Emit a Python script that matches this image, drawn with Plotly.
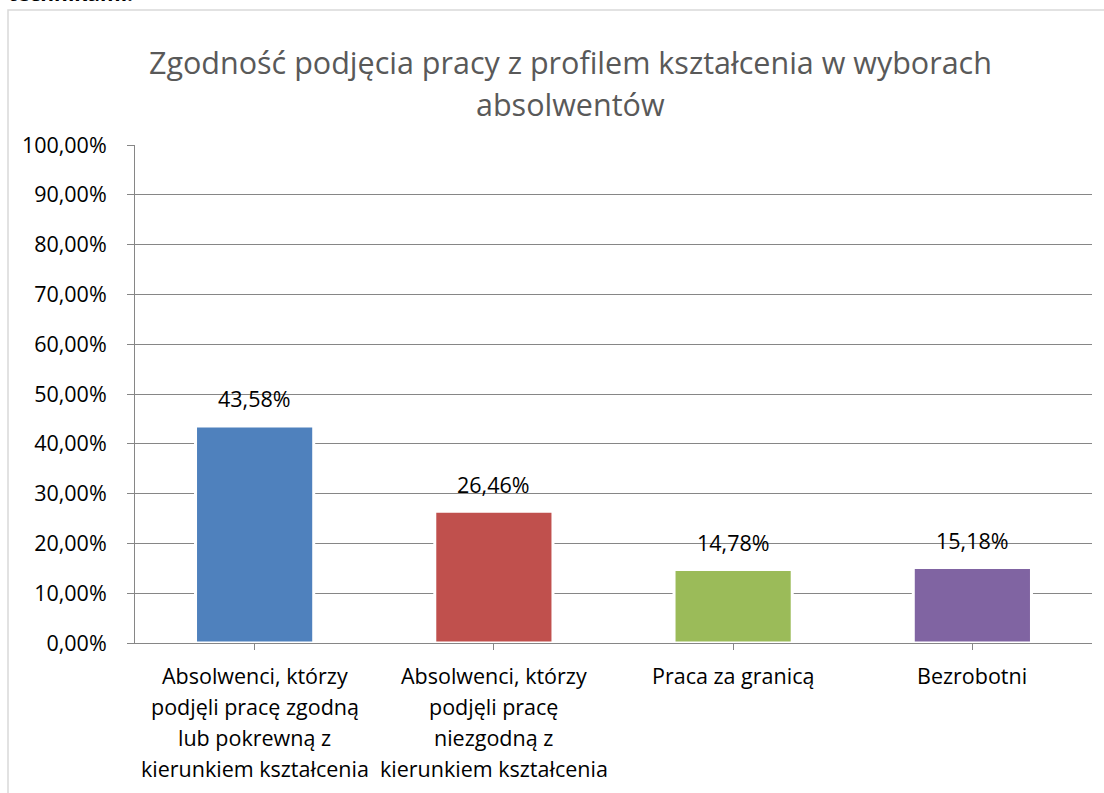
import plotly.graph_objects as go

categories = [
    "Absolwenci, którzy<br>podjęli pracę zgodną<br>lub pokrewną z<br>kierunkiem kształcenia",
    "Absolwenci, którzy<br>podjęli pracę<br>niezgodną z<br>kierunkiem kształcenia",
    "Praca za granicą",
    "Bezrobotni",
]
values = [0.4358, 0.2646, 0.1478, 0.1518]
colors = ["#4F81BD", "#C0504D", "#9BBB59", "#8064A2"]
title_lines = ["Zgodność podjęcia pracy z profilem kształcenia w wyborach", "absolwentów"]

FONT = "Open Sans"
FS = 21.5
W, H = 1104, 793
ML, MR, MT, MB = 135, 12, 145, 150
PW = W - ML - MR
PH = H - MT - MB

def px_to_px(x):
    return (x - ML) / PW

def py_to_py(y):
    return (H - MB - y) / PH

cat_ids = list(range(len(categories)))

fig = go.Figure()
fig.add_trace(go.Bar(
    x=cat_ids, y=values,
    marker=dict(color=colors, line=dict(color="white", width=3)),
    width=0.494,
    hoverinfo="skip",
))

annotations = []
for i, v in enumerate(values):
    annotations.append(dict(
        x=i, y=v, xref="x", yref="y", text=f"{v*100:.2f}%".replace(".", ","),
        showarrow=False, yanchor="middle", yshift=27,
        font=dict(family=FONT, size=FS, color="#000000"),
    ))
for i, c in enumerate(categories):
    for j, line in enumerate(c.split("<br>")):
        annotations.append(dict(
            x=i, y=0, xref="x", yref="y", text=line, showarrow=False,
            yanchor="middle", yshift=-(32 + 31 * j),
            font=dict(family=FONT, size=FS, color="#000000"),
        ))
for j, t in enumerate(title_lines):
    annotations.append(dict(
        x=px_to_px(570), y=py_to_py(62 + 42 * j), xref="paper", yref="paper",
        text=t, showarrow=False, xanchor="center", yanchor="middle",
        font=dict(family=FONT, size=30.5, color="#595959"),
    ))
annotations.append(dict(
    x=px_to_px(6), y=py_to_py(9), xref="paper", yref="paper",
    text="<b>technikami.</b>", showarrow=False, xanchor="left", yanchor="bottom",
    font=dict(family=FONT, size=21, color="#000000"),
))

fig.update_layout(
    width=W, height=H,
    margin=dict(l=ML, r=MR, t=MT, b=MB, autoexpand=False),
    paper_bgcolor="white", plot_bgcolor="white",
    separators=", ",
    showlegend=False,
    annotations=annotations,
    shapes=[dict(
        type="rect", xref="paper", yref="paper",
        x0=px_to_px(8), x1=px_to_px(1200), y0=py_to_py(900), y1=py_to_py(10),
        line=dict(color="#D9D9D9", width=1.5), fillcolor="rgba(0,0,0,0)", layer="below",
    )],
    xaxis=dict(
        tickmode="array", tickvals=cat_ids, ticktext=[""] * len(categories),
        range=[-0.5, len(categories) - 0.5],
        showline=True, linecolor="#868686", linewidth=1,
        ticks="outside", tickson="boundaries", ticklen=6, tickcolor="#868686",
        showgrid=False, zeroline=False,
    ),
    yaxis=dict(
        range=[0, 1], dtick=0.1, tickformat=".2%",
        showline=True, linecolor="#868686", linewidth=1,
        ticks="outside", ticklen=7, tickcolor="#868686",
        showgrid=True, gridcolor="#868686", gridwidth=1,
        zeroline=False,
        tickfont=dict(family=FONT, size=FS, color="#000000"),
        ticklabelstandoff=16,
    ),
)

fig.write_html(
    "out.html",
    config={"displayModeBar": False},
    post_script="document.body.style.margin='0';document.body.style.overflow='hidden';",
)
